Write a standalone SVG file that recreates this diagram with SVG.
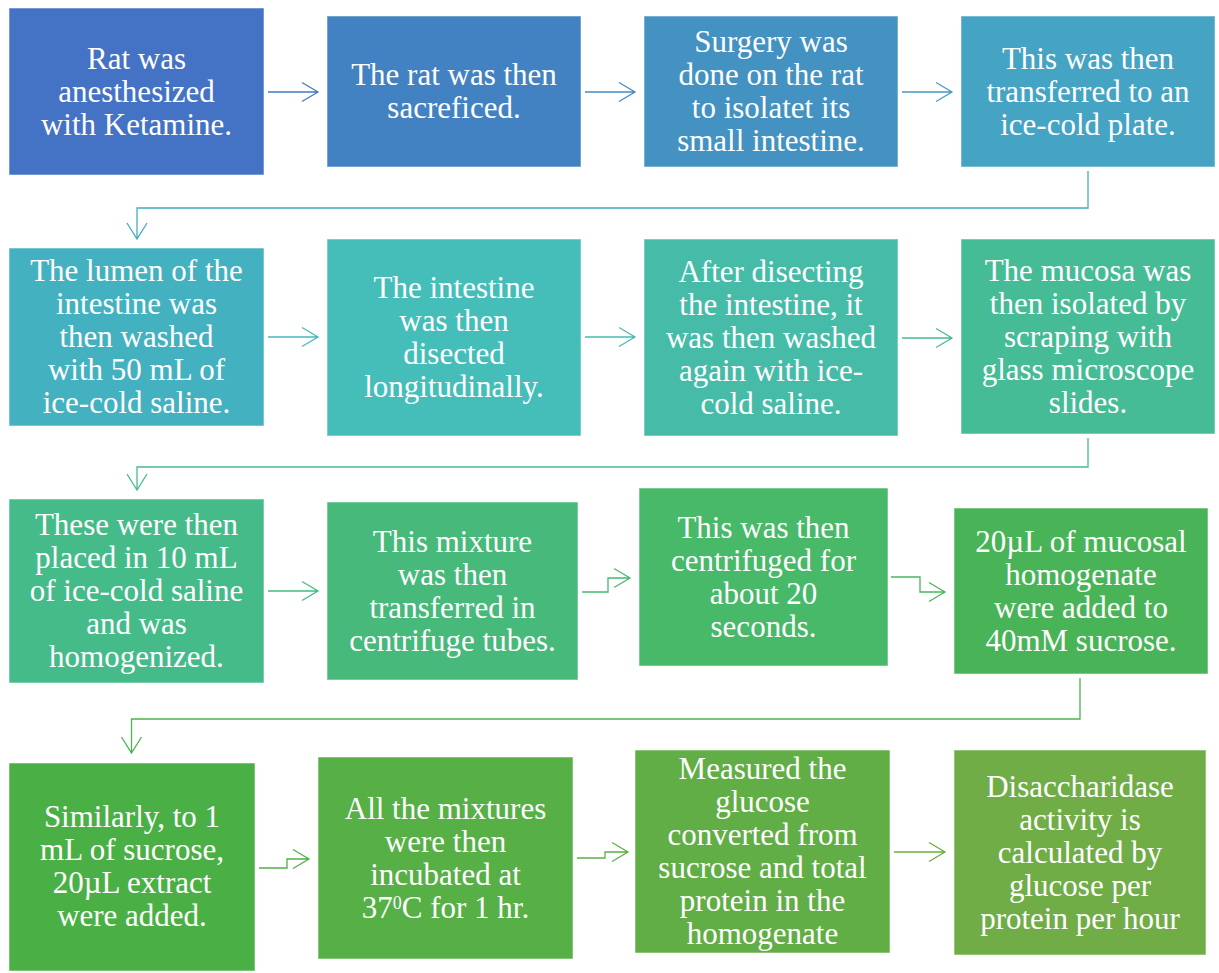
<svg xmlns="http://www.w3.org/2000/svg" width="1219" height="973" viewBox="0 0 1219 973">
<style>
.box{stroke:#ffffff;stroke-opacity:0.55;stroke-width:1}
.t{font-family:"Liberation Serif","Times New Roman",serif;font-size:31px;fill:#ffffff;text-anchor:middle}
.c{fill:none;stroke-width:1.3;stroke-linejoin:miter}
</style>
<rect width="1219" height="973" fill="#ffffff"/>
<g id="connectors">
<path class="c" stroke="#447AC3" d="M268,92 H318 M302,82.5 L318,92 L302,101.5"/>
<path class="c" stroke="#448AC2" d="M585,92 H635 M619,82.5 L635,92 L619,101.5"/>
<path class="c" stroke="#459BC3" d="M902,92 H952 M936,82.5 L952,92 L936,101.5"/>
<path class="c" stroke="#45ABC3" d="M1088,171 V208 H137 V239 M127,223 L137,239 L147,223"/>
<path class="c" stroke="#45B8BE" d="M268,337 H318 M302,327.5 L318,337 L302,346.5"/>
<path class="c" stroke="#46BDB0" d="M585,337 H635 M619,327.5 L635,337 L619,346.5"/>
<path class="c" stroke="#46BB9E" d="M902,338 H952 M936,328.5 L952,338 L936,347.5"/>
<path class="c" stroke="#46BB90" d="M1088,438 V467 H137 V490 M127,474 L137,490 L147,474"/>
<path class="c" stroke="#46BA82" d="M268,591 H318 M302,581.5 L318,591 L302,600.5"/>
<path class="c" stroke="#47B971" d="M582,592 H608 V578 H630 M614,568.5 L630,578 L614,587.5"/>
<path class="c" stroke="#48B660" d="M891,577 H920 V592 H945 M929,582.5 L945,592 L929,601.5"/>
<path class="c" stroke="#4AB24E" d="M1080,678 V719 H131.5 V753 M121.5,737 L131.5,753 L141.5,737"/>
<path class="c" stroke="#50B045" d="M259,868 H287 V859 H309 M293,849.5 L309,859 L293,868.5"/>
<path class="c" stroke="#5CAF45" d="M577,858 H605 V852 H628 M612,842.5 L628,852 L612,861.5"/>
<path class="c" stroke="#69AE46" d="M894,852 H945 M929,842.5 L945,852 L929,861.5"/>
</g>
<g id="n1"><rect class="box" x="9" y="8" width="255" height="167" fill="#4472C4"/>
<text class="t" x="136.5" y="68.5">Rat was</text><text class="t" x="136.5" y="101.5">anesthesized</text><text class="t" x="136.5" y="134.5">with Ketamine.</text></g>
<g id="n2"><rect class="box" x="327" y="16" width="254" height="151" fill="#4382C2"/>
<text class="t" x="454" y="85">The rat was then</text><text class="t" x="454" y="118">sacreficed.</text></g>
<g id="n3"><rect class="box" x="644" y="16" width="254" height="151" fill="#4492C2"/>
<text class="t" x="771" y="52">Surgery was</text><text class="t" x="771" y="85">done on the rat</text><text class="t" x="771" y="118">to isolatet its</text><text class="t" x="771" y="151">small intestine.</text></g>
<g id="n4"><rect class="box" x="961" y="16" width="254" height="151" fill="#45A3C4"/>
<text class="t" x="1088" y="68.5">This was then</text><text class="t" x="1088" y="101.5">transferred to an</text><text class="t" x="1088" y="134.5">ice-cold plate.</text></g>
<g id="n5"><rect class="box" x="9" y="248" width="255" height="178" fill="#44B1C0"/>
<text class="t" x="136.5" y="281">The lumen of the</text><text class="t" x="136.5" y="314">intestine was</text><text class="t" x="136.5" y="347">then washed</text><text class="t" x="136.5" y="380">with 50 mL of</text><text class="t" x="136.5" y="413">ice-cold saline.</text></g>
<g id="n6"><rect class="box" x="327" y="239" width="254" height="197" fill="#45BEBA"/>
<text class="t" x="454" y="298">The intestine</text><text class="t" x="454" y="331">was then</text><text class="t" x="454" y="364">disected</text><text class="t" x="454" y="397">longitudinally.</text></g>
<g id="n7"><rect class="box" x="644" y="239" width="254" height="197" fill="#46BCA8"/>
<text class="t" x="771" y="281.5">After disecting</text><text class="t" x="771" y="314.5">the intestine, it</text><text class="t" x="771" y="347.5">was then washed</text><text class="t" x="771" y="380.5">again with ice-</text><text class="t" x="771" y="413.5">cold saline.</text></g>
<g id="n8"><rect class="box" x="961" y="239" width="254" height="195" fill="#46BC96"/>
<text class="t" x="1088" y="280.5">The mucosa was</text><text class="t" x="1088" y="313.5">then isolated by</text><text class="t" x="1088" y="346.5">scraping with</text><text class="t" x="1088" y="379.5">glass microscope</text><text class="t" x="1088" y="412.5">slides.</text></g>
<g id="n9"><rect class="box" x="9" y="499" width="255" height="184" fill="#46BB8A"/>
<text class="t" x="136.5" y="535">These were then</text><text class="t" x="136.5" y="568">placed in 10 mL</text><text class="t" x="136.5" y="601">of ice-cold saline</text><text class="t" x="136.5" y="634">and was</text><text class="t" x="136.5" y="667">homogenized.</text></g>
<g id="n10"><rect class="box" x="327" y="502" width="251" height="178" fill="#47B97A"/>
<text class="t" x="452.5" y="551.5">This mixture</text><text class="t" x="452.5" y="584.5">was then</text><text class="t" x="452.5" y="617.5">transferred in</text><text class="t" x="452.5" y="650.5">centrifuge tubes.</text></g>
<g id="n11"><rect class="box" x="639" y="488" width="249" height="178" fill="#48B869"/>
<text class="t" x="763.5" y="537.5">This was then</text><text class="t" x="763.5" y="570.5">centrifuged for</text><text class="t" x="763.5" y="603.5">about 20</text><text class="t" x="763.5" y="636.5">seconds.</text></g>
<g id="n12"><rect class="box" x="954" y="508" width="254" height="166" fill="#49B457"/>
<text class="t" x="1081" y="551.5">20µL of mucosal</text><text class="t" x="1081" y="584.5">homogenate</text><text class="t" x="1081" y="617.5">were added to</text><text class="t" x="1081" y="650.5">40mM sucrose.</text></g>
<g id="n13"><rect class="box" x="9" y="763" width="246" height="208" fill="#4AB046"/>
<text class="t" x="132" y="827">Similarly, to 1</text><text class="t" x="132" y="860">mL of sucrose,</text><text class="t" x="132" y="893">20µL extract</text><text class="t" x="132" y="926">were added.</text></g>
<g id="n14"><rect class="box" x="318" y="757" width="255" height="202" fill="#56B046"/>
<text class="t" x="445.5" y="818.5">All the mixtures</text><text class="t" x="445.5" y="851.5">were then</text><text class="t" x="445.5" y="884.5">incubated at</text><text class="t" x="445.5" y="917.5">37<tspan font-size="18" dy="-9">0</tspan><tspan dy="9">C for 1 hr.</tspan></text></g>
<g id="n15"><rect class="box" x="635" y="750" width="255" height="203" fill="#62AE46"/>
<text class="t" x="762.5" y="779">Measured the</text><text class="t" x="762.5" y="812">glucose</text><text class="t" x="762.5" y="845">converted from</text><text class="t" x="762.5" y="878">sucrose and total</text><text class="t" x="762.5" y="911">protein in the</text><text class="t" x="762.5" y="944">homogenate</text></g>
<g id="n16"><rect class="box" x="954" y="750" width="252" height="205" fill="#70AD47"/>
<text class="t" x="1080" y="796.5">Disaccharidase</text><text class="t" x="1080" y="829.5">activity is</text><text class="t" x="1080" y="862.5">calculated by</text><text class="t" x="1080" y="895.5">glucose per</text><text class="t" x="1080" y="928.5">protein per hour</text></g>
</svg>
